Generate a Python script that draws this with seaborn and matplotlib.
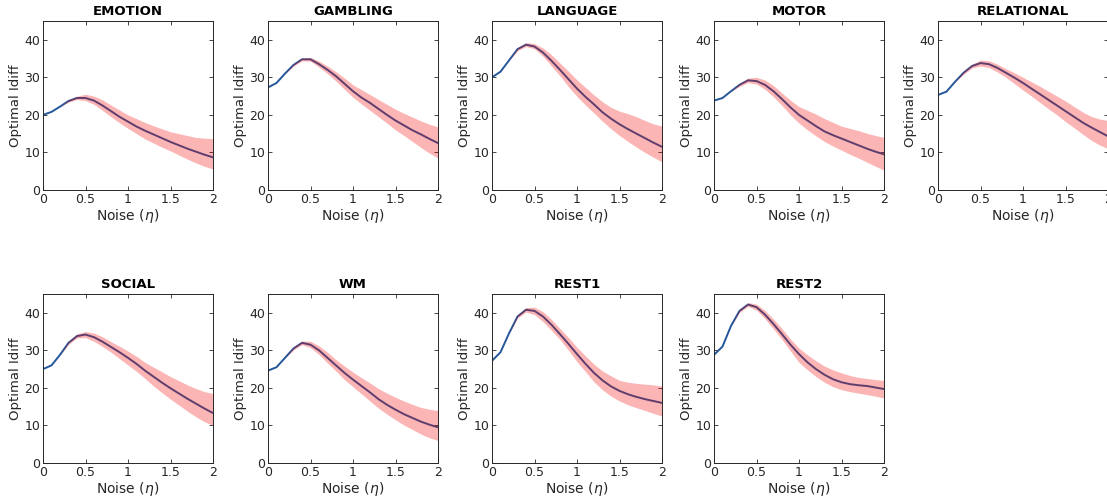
import numpy as np
import pandas as pd
import matplotlib
matplotlib.use("Agg")
import matplotlib.pyplot as plt
import seaborn as sns

noise = [round(0.1 * i, 1) for i in range(21)]

tasks = ["EMOTION", "GAMBLING", "LANGUAGE", "MOTOR", "RELATIONAL",
         "SOCIAL", "WM", "REST1", "REST2"]

emotion_mean = [20.0,20.8,22.2,23.7,24.5,24.5,23.8,22.5,21.0,19.5,18.2,16.9,15.8,14.8,13.8,12.8,11.9,11.0,10.2,9.4,8.7]
emotion_hi = [20.0,20.8,22.2,24.0,25.0,25.5,25.0,24.0,22.6,21.3,20.0,19.0,18.0,17.1,16.3,15.5,15.0,14.5,14.0,13.8,13.7]
emotion_lo = [20.0,20.8,22.2,23.4,24.1,23.8,22.8,21.2,19.5,17.9,16.4,15.0,13.6,12.5,11.4,10.4,9.3,8.2,7.2,6.3,5.6]

gambling_mean = [27.3,28.5,31.0,33.3,34.8,34.8,33.5,32.0,30.3,28.3,26.3,24.6,23.2,21.6,20.0,18.5,17.2,15.9,14.8,13.6,12.5]
gambling_hi = [27.3,28.5,31.0,33.6,35.2,35.3,34.3,33.0,31.5,29.8,28.0,26.7,25.4,24.1,22.8,21.5,20.4,19.4,18.4,17.5,16.8]
gambling_lo = [27.3,28.5,31.0,33.0,34.4,34.3,32.7,31.0,29.0,26.8,24.7,22.9,21.2,19.5,17.8,16.0,14.5,12.9,11.3,9.8,8.5]

language_mean = [30.0,31.5,34.5,37.5,38.7,38.2,36.6,34.4,32.0,29.5,27.0,24.8,22.8,20.7,19.0,17.5,16.2,15.0,13.8,12.6,11.5]
language_hi = [30.0,31.5,34.5,37.9,39.2,39.0,37.8,36.0,33.8,31.6,29.3,27.3,25.3,23.5,22.0,21.0,20.3,19.5,18.5,17.6,17.0]
language_lo = [30.0,31.5,34.5,37.1,38.2,37.6,35.6,33.0,30.4,27.5,24.9,22.6,20.5,18.3,16.3,14.5,12.9,11.4,10.0,8.7,7.5]

motor_mean = [23.8,24.5,26.3,28.0,29.2,29.0,28.0,26.3,24.2,22.0,20.0,18.5,17.0,15.6,14.6,13.7,12.8,11.9,11.0,10.2,9.5]
motor_hi = [23.8,24.5,26.3,28.4,29.8,30.0,29.3,27.8,25.8,23.9,22.2,21.2,20.2,19.0,18.0,17.0,16.4,15.8,15.1,14.5,14.0]
motor_lo = [23.8,24.5,26.3,27.6,28.6,28.2,26.8,24.8,22.5,20.0,17.8,16.0,14.4,12.9,11.7,10.6,9.5,8.5,7.4,6.3,5.3]

relational_mean = [25.3,26.2,28.8,31.2,33.0,33.8,33.5,32.5,31.2,29.9,28.5,27.0,25.5,24.0,22.5,21.0,19.5,18.0,16.7,15.5,14.3]
relational_hi = [25.3,26.2,28.8,31.6,33.5,34.6,34.4,33.5,32.3,31.2,30.0,28.8,27.6,26.3,25.0,23.7,22.2,20.8,19.6,18.9,18.5]
relational_lo = [25.3,26.2,28.8,30.8,32.5,33.0,32.6,31.4,30.0,28.3,26.6,25.0,23.3,21.6,20.0,18.2,16.6,14.9,13.3,12.0,11.0]

social_mean = [25.0,26.0,28.8,32.0,33.8,34.2,33.5,32.3,30.9,29.5,28.0,26.4,24.6,23.0,21.4,19.9,18.5,17.1,15.8,14.5,13.3]
social_hi = [25.0,26.0,28.8,32.4,34.4,35.0,34.6,33.6,32.3,31.1,29.8,28.4,26.8,25.5,24.3,23.0,21.9,20.8,19.8,19.0,18.5]
social_lo = [25.0,26.0,28.8,31.6,33.3,33.4,32.4,31.0,29.5,27.8,26.1,24.4,22.5,20.5,18.7,17.0,15.4,13.8,12.3,11.0,10.0]

wm_mean = [24.6,25.5,28.0,30.5,32.0,31.5,30.0,28.0,26.0,24.0,22.2,20.5,18.8,17.0,15.5,14.2,13.0,12.0,11.0,10.2,9.5]
wm_hi = [24.6,25.5,28.0,30.9,32.5,32.4,31.2,29.5,27.5,25.8,24.2,22.7,21.3,19.8,18.6,17.5,16.5,15.6,14.8,14.3,14.0]
wm_lo = [24.6,25.5,28.0,30.1,31.5,30.7,28.9,26.6,24.5,22.2,20.3,18.4,16.5,14.6,13.0,11.5,10.1,8.9,7.7,6.7,6.0]

rest1_mean = [27.2,29.5,34.5,39.0,40.8,40.5,39.0,36.8,34.3,31.7,29.0,26.4,24.0,22.0,20.4,19.2,18.3,17.6,17.0,16.5,16.0]
rest1_hi = [27.2,29.5,34.5,39.4,41.4,41.5,40.3,38.2,35.8,33.4,30.8,28.5,26.3,24.5,23.2,22.0,21.5,21.2,21.0,20.8,20.5]
rest1_lo = [27.2,29.5,34.5,38.6,40.2,39.5,37.6,35.3,32.9,30.0,27.0,24.3,21.6,19.5,17.8,16.5,15.5,14.7,14.0,13.2,12.5]

rest2_mean = [28.8,31.0,36.5,40.5,42.2,41.5,39.5,37.0,34.3,31.5,29.0,26.8,25.0,23.5,22.3,21.5,21.0,20.7,20.5,20.1,19.7]
rest2_hi = [28.8,31.0,36.5,40.9,42.7,42.3,40.6,38.3,35.8,33.0,30.6,28.8,27.2,25.8,24.8,24.0,23.3,22.8,22.5,22.2,22.0]
rest2_lo = [28.8,31.0,36.5,40.1,41.7,40.7,38.4,35.7,32.9,29.8,26.8,24.8,23.0,21.5,20.3,19.5,19.0,18.6,18.2,17.8,17.3]

means = [emotion_mean, gambling_mean, language_mean, motor_mean, relational_mean,
         social_mean, wm_mean, rest1_mean, rest2_mean]
his = [emotion_hi, gambling_hi, language_hi, motor_hi, relational_hi,
       social_hi, wm_hi, rest1_hi, rest2_hi]
los = [emotion_lo, gambling_lo, language_lo, motor_lo, relational_lo,
       social_lo, wm_lo, rest1_lo, rest2_lo]

xticks = [0, 0.5, 1, 1.5, 2]
xticklabels = ["0", "0.5", "1", "1.5", "2"]
yticks = [0, 10, 20, 30, 40]

sns.set_theme(style="ticks")
plt.rcParams["font.family"] = ["DejaVu Sans"]
plt.rcParams["mathtext.fontset"] = "dejavusans"

W, H = 1107, 501
fig = plt.figure(figsize=(W / 100, H / 100), dpi=100)

col_left = [43, 268, 492, 714, 938]
row_top = [21, 294]
ax_w, ax_h = 170, 169

line_color = "#24579a"
band_color = "#f20000"
text_color = "#262626"

for i, task in enumerate(tasks):
    r, c = divmod(i, 5)
    left = col_left[c] / W
    bottom = (H - row_top[r] - ax_h) / H
    ax = fig.add_axes([left, bottom, ax_w / W, ax_h / H])
    df = pd.DataFrame({"noise": noise, "idiff": means[i]})
    sns.lineplot(data=df, x="noise", y="idiff", ax=ax, color=line_color, lw=1.4)
    ax.fill_between(noise, los[i], his[i], color=band_color, alpha=0.29, lw=0,
                    zorder=5)
    ax.set_xlim(0, 2)
    ax.set_ylim(0, 45)
    ax.set_xticks(xticks)
    ax.set_xticklabels(xticklabels)
    ax.set_yticks(yticks)
    ax.tick_params(direction="in", top=True, right=True, length=3, width=0.6,
                   labelsize=9, colors=text_color, pad=2)
    for s in ax.spines.values():
        s.set_color(text_color)
        s.set_linewidth(0.7)
        s.set_zorder(6)
    ax.set_title(task, fontsize=9.5, fontweight="bold", color="black", pad=4)
    ax.set_xlabel(r"Noise ($\eta$)", fontsize=10, color=text_color, labelpad=1)
    ax.set_ylabel("Optimal Idiff", fontsize=9.5, color=text_color, labelpad=2)

fig.savefig("out.png", dpi=100)
